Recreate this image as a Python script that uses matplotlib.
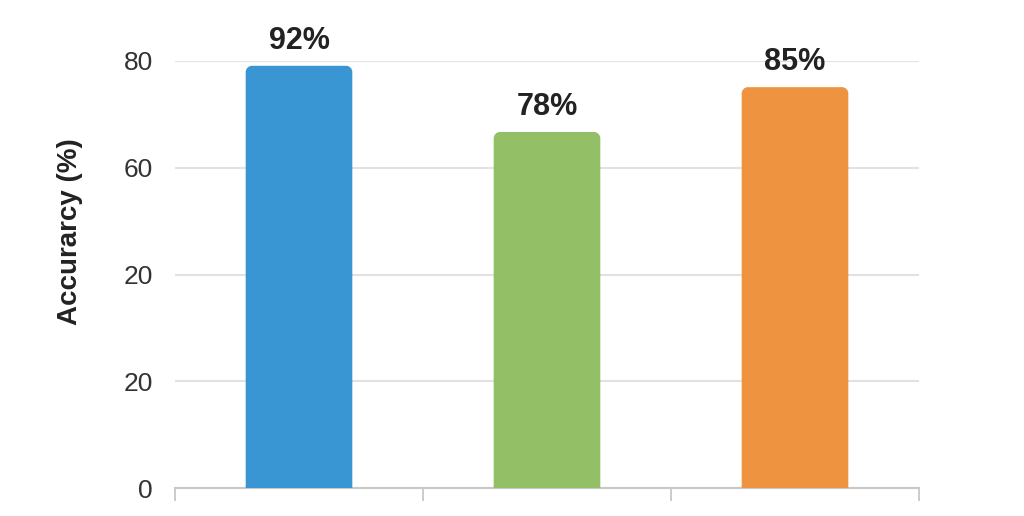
import matplotlib
matplotlib.use("Agg")
import matplotlib.pyplot as plt
from matplotlib.path import Path
from matplotlib.patches import PathPatch

plt.rcParams['font.family'] = ['Liberation Sans', 'DejaVu Sans']

# values (bar heights on the axis scale) and the printed labels
bar_heights = [79.1, 66.7, 75.1]
bar_labels = ['92%', '78%', '85%']
bar_colors = ['#3a96d2', '#93c066', '#ee9441']
ytick_values = [0, 20, 40, 60, 80]
ytick_labels = ['0', '20', '20', '60', '80']


def rounded_top(x0, w, h, rx, ry):
    # bar outline with rounded top corners only (data coords)
    k = 0.5523
    verts = [
        (x0, 0), (x0, h - ry),
        (x0, h - ry + k * ry), (x0 + rx - k * rx, h), (x0 + rx, h),
        (x0 + w - rx, h),
        (x0 + w - rx + k * rx, h), (x0 + w, h - ry + k * ry), (x0 + w, h - ry),
        (x0 + w, 0), (x0, 0),
    ]
    codes = [Path.MOVETO, Path.LINETO,
             Path.CURVE4, Path.CURVE4, Path.CURVE4,
             Path.LINETO,
             Path.CURVE4, Path.CURVE4, Path.CURVE4,
             Path.LINETO, Path.CLOSEPOLY]
    return Path(verts, codes)


fig = plt.figure(figsize=(10.24, 5.16), dpi=100)
ax = fig.add_axes([175 / 1024, 1 - 488 / 516, (919 - 175) / 1024, (488 - 61) / 516])

bars = ax.bar(range(len(bar_heights)), bar_heights, width=0.43, color=bar_colors)
for b, c, lab in zip(bars, bar_colors, bar_labels):
    x0, w, h = b.get_x(), b.get_width(), b.get_height()
    b.set_visible(False)
    ax.add_patch(PathPatch(rounded_top(x0, w, h, 0.025, 1.2), facecolor=c,
                           edgecolor='none', zorder=3))
    ax.annotate(lab, (x0 + w / 2, h), xytext=(0, 7), textcoords='offset points',
                ha='center', va='bottom', fontsize=22, fontweight='bold',
                color='#222222', annotation_clip=False)

ax.set_xlim(-0.5, 2.5)
ax.set_ylim(0, 80)
ax.set_yticks(ytick_values)
ax.set_yticklabels(ytick_labels, fontsize=19, color='#333333')
ax.set_xticks([-0.5, 0.5, 1.5, 2.5])
ax.set_xticklabels([])
ax.tick_params(axis='y', length=0, pad=16)
ax.tick_params(axis='x', length=9, width=1.3, color='#c8c8c8')

ax.grid(axis='y', color='#e2e2e2', linewidth=1.5, zorder=0)
ax.set_axisbelow(True)
for s in ['left', 'right', 'top']:
    ax.spines[s].set_visible(False)
ax.spines['bottom'].set_color('#c8c8c8')
ax.spines['bottom'].set_linewidth(1.5)

ax.set_ylabel('Accurarcy (%)', fontsize=20, fontweight='bold', color='#222222')
ax.yaxis.set_label_coords((83 - 175) / 744, (488 - 232) / 427)

fig.savefig('out.png', dpi=100)
